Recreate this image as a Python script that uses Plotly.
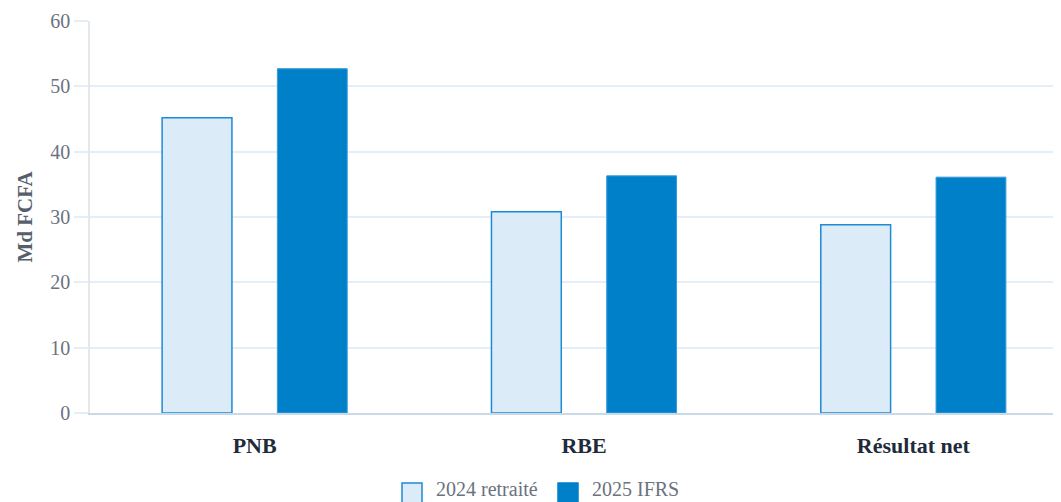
import plotly.graph_objects as go

categories = ["PNB", "RBE", "Résultat net"]
values_2024 = [45.2, 30.8, 28.8]
values_2025 = [52.7, 36.3, 36.1]
series_names = ["2024 retraité", "2025 IFRS"]
y_ticks = [0, 10, 20, 30, 40, 50, 60]

FONT = "Liberation Serif"
C24_FILL, C24_LINE = "#dbecf8", "#1e8ad6"
C25_FILL, C25_LINE = "#0080c9", "#3a9ad8"

fig = go.Figure()
fig.add_trace(go.Bar(
    x=categories, y=values_2024, name=series_names[0],
    width=0.212, offset=-0.281,
    marker=dict(color=C24_FILL, line=dict(color=C24_LINE, width=1.5)),
))
fig.add_trace(go.Bar(
    x=categories, y=values_2025, name=series_names[1],
    width=0.212, offset=0.069,
    marker=dict(color=C25_FILL, line=dict(color=C25_LINE, width=1)),
))

# custom legend (larger swatches)
L, PW, T, PH = 82, 988, 13, 392
def px(xp): return (xp - L) / PW
def py(yp): return (T + PH - yp) / PH

legend_items = [
    (series_names[0], C24_FILL, C24_LINE, 394, 427),
    (series_names[1], C25_FILL, C25_FILL, 550, 583),
]
for name, fill, line, sx, tx in legend_items:
    fig.add_shape(type="rect", xref="paper", yref="paper",
                  x0=px(sx), x1=px(sx + 20), y0=py(475), y1=py(495),
                  fillcolor=fill, line=dict(color=line, width=1.5))
    fig.add_annotation(xref="paper", yref="paper", x=px(tx), y=py(481),
                       xanchor="left", yanchor="middle", showarrow=False,
                       borderpad=0,
                       text=name, font=dict(size=20, color="#6b7280", family=FONT))

fig.update_layout(
    width=1080, height=502,
    margin=dict(l=L, r=1080 - L - PW, t=T, b=502 - T - PH, autoexpand=False),
    paper_bgcolor="white", plot_bgcolor="white",
    barmode="overlay",
    font=dict(family=FONT, color="#6b7280", size=20),
    showlegend=False,
    xaxis=dict(
        automargin=False,
        showgrid=False, showline=True, linecolor="#c9d9e8", linewidth=1.5,
        tickfont=dict(size=22, color="#1f2a3a", family=FONT, weight="bold"),
        ticks="", ticklabelstandoff=12,
    ),
    yaxis=dict(
        automargin=False,
        range=[0, 60], tickvals=y_ticks,
        showgrid=True, gridcolor="#e4eef8", gridwidth=1.5,
        showline=True, linecolor="#e5e7eb", linewidth=1.5,
        ticks="outside", ticklen=14, tickcolor="#e4eef8", tickwidth=1.5,
        tickfont=dict(size=20, color="#6b7280", family=FONT),
        zeroline=False,
        title=dict(text="Md FCFA", standoff=12,
                   font=dict(size=21, color="#555f6d", family=FONT, weight="bold")),
    ),
)

fig.write_html("out.html")
